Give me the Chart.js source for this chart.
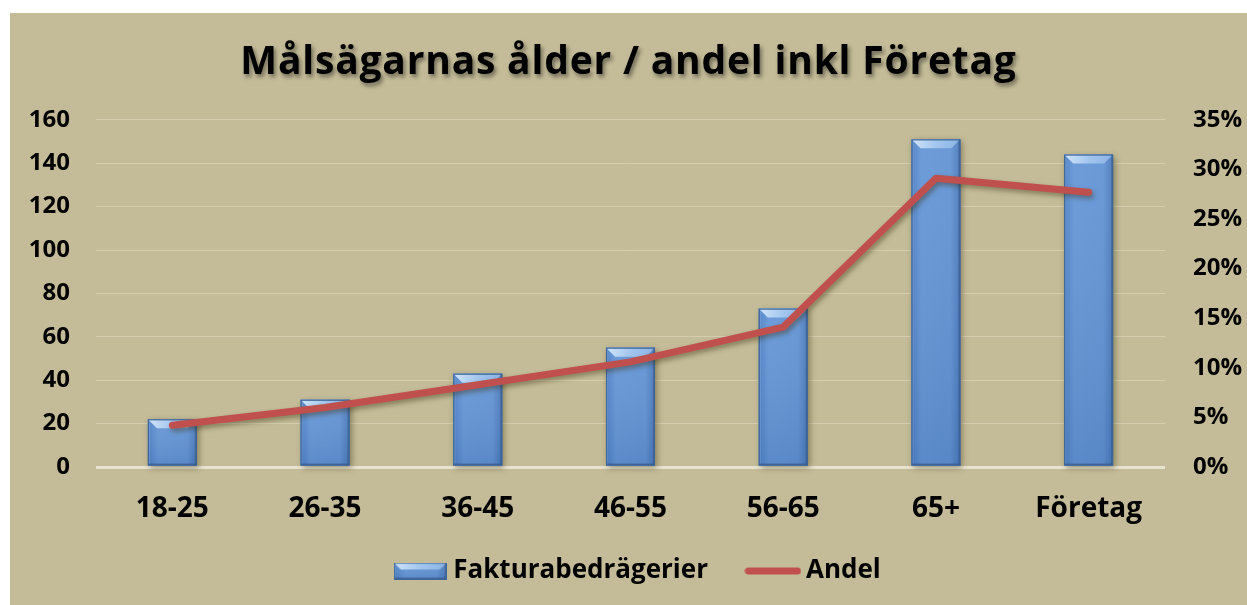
<!DOCTYPE html>
<html>
<head>
<meta charset="utf-8">
<script src="https://cdn.jsdelivr.net/npm/chart.js@4.4.1/dist/chart.umd.min.js"></script>
<style>
  html, body { margin: 0; padding: 0; background: #ffffff; }
  #wrap { position: absolute; left: 10px; top: 13px; width: 1237px; height: 592px; background: #C4BC98; }
  canvas { display: block; }
</style>
</head>
<body>
<div id="wrap"><canvas id="c" width="1237" height="592"></canvas></div>
<script>
const categories = ["18-25", "26-35", "36-45", "46-55", "56-65", "65+", "Företag"];
const fakturaValues = [22, 31, 43, 55, 73, 151, 144];
const andelValues = [4.2, 6.0, 8.3, 10.6, 14.1, 29.1, 27.7];
const leftTicks = [0, 20, 40, 60, 80, 100, 120, 140, 160];
const rightTicks = [0, 5, 10, 15, 20, 25, 30, 35];
const titleText = "Målsägarnas ålder / andel inkl Företag";
const seriesNames = ["Fakturabedrägerier", "Andel"];

const FONT = "'Open Sans', Lato, sans-serif";
const LINE_COLOR = "#C0504D";

function barGradient(ctx, x0, x1) {
  const g = ctx.createLinearGradient(x0, 0, x1, 0);
  g.addColorStop(0, "#4E80C4");
  g.addColorStop(0.2, "#6596D6");
  g.addColorStop(0.8, "#6293D4");
  g.addColorStop(1, "#4A78B8");
  return g;
}

function drawBevelBar(ctx, left, top, right, bottom, bevel) {
  ctx.save();
  ctx.fillStyle = barGradient(ctx, left, right);
  ctx.fillRect(left, top, right - left, bottom - top);
  const vg = ctx.createLinearGradient(0, top, 0, bottom);
  vg.addColorStop(0, "rgba(255,255,255,0.06)");
  vg.addColorStop(1, "rgba(20,50,100,0.12)");
  ctx.fillStyle = vg;
  ctx.fillRect(left, top, right - left, bottom - top);
  const tg = ctx.createLinearGradient(left, top, right, top + bevel);
  tg.addColorStop(0, "#D2E6FA");
  tg.addColorStop(0.5, "#A3C6EE");
  tg.addColorStop(1, "#8AB2E4");
  ctx.fillStyle = tg;
  ctx.beginPath();
  ctx.moveTo(left, top);
  ctx.lineTo(right, top);
  ctx.lineTo(right - bevel, top + bevel);
  ctx.lineTo(left + bevel, top + bevel);
  ctx.closePath();
  ctx.fill();
  ctx.fillStyle = "rgba(150,190,235,0.35)";
  ctx.fillRect(left, top, 2, bottom - top);
  ctx.fillStyle = "rgba(40,70,120,0.35)";
  ctx.fillRect(right - 2, top, 2, bottom - top);
  ctx.fillStyle = "rgba(40,70,120,0.45)";
  ctx.fillRect(left, bottom - 2, right - left, 2);
  ctx.strokeStyle = "#3D6595";
  ctx.lineWidth = 1.2;
  ctx.strokeRect(left + 0.5, top + 0.5, right - left - 1, bottom - top - 1);
  ctx.restore();
}

function makeBarSwatch() {
  const c = document.createElement("canvas");
  c.width = 53; c.height = 17;
  const x = c.getContext("2d");
  drawBevelBar(x, 0, 0, 53, 17, 7);
  return c;
}
function makeLineSwatch() {
  const c = document.createElement("canvas");
  c.width = 57; c.height = 10;
  const x = c.getContext("2d");
  x.strokeStyle = LINE_COLOR;
  x.lineWidth = 7;
  x.lineCap = "round";
  x.beginPath(); x.moveTo(4, 5); x.lineTo(53, 5); x.stroke();
  return c;
}
const barSwatch = makeBarSwatch();
const lineSwatch = makeLineSwatch();

const bevelBarsPlugin = {
  id: "bevelBars",
  afterDatasetDraw(chart, args) {
    if (args.index === 1) { chart.ctx.restore(); return; }
    if (args.index !== 0) return;
    const ctx = chart.ctx;
    const meta = chart.getDatasetMeta(0);
    meta.data.forEach(bar => {
      const p = bar.getProps(["x", "y", "base", "width"], true);
      const left = p.x - p.width / 2, right = p.x + p.width / 2;
      ctx.save();
      ctx.shadowColor = "rgba(60,50,20,0.45)";
      ctx.shadowBlur = 6;
      ctx.shadowOffsetX = 2;
      ctx.shadowOffsetY = 2;
      ctx.fillStyle = "#5A8AC8";
      ctx.fillRect(left, p.y, p.width, p.base - p.y);
      ctx.restore();
      drawBevelBar(ctx, left, p.y, right, p.base, 9);
    });
  },
  beforeDatasetDraw(chart, args) {
    if (args.index === 1) {
      const ctx = chart.ctx;
      ctx.save();
      ctx.shadowColor = "rgba(60,50,20,0.45)";
      ctx.shadowBlur = 5;
      ctx.shadowOffsetX = 2;
      ctx.shadowOffsetY = 3;
    }
  }
};
const titleShadow = {
  id: "titleShadow",
  beforeDraw(chart) {
    const tb = chart.titleBlock;
    if (tb && !tb._wrapped) {
      const orig = tb.draw.bind(tb);
      tb.draw = function() {
        const ctx = chart.ctx;
        ctx.save();
        ctx.shadowColor = "rgba(0,0,0,0.45)";
        ctx.shadowBlur = 4;
        ctx.shadowOffsetX = 2;
        ctx.shadowOffsetY = 3;
        try { ctx.letterSpacing = "0.8px"; } catch (e) {}
        orig();
        ctx.restore();
      };
      tb._wrapped = true;
    }
  }
};
// legend spacing between items is larger than its vertical offset: adjust block
const legendNudge = {
  id: "legendNudge",
  beforeLayout(chart) {
    const lg = chart.legend;
    if (lg && !lg._fitWrapped) {
      const f = lg.fit.bind(lg);
      lg.fit = function() { f(); this.height -= 4; };
      lg._fitWrapped = true;
    }
  },
  afterLayout(chart) {
    const lg = chart.legend;
    if (!lg) return;
    lg.top -= 15; lg.bottom -= 15;
    lg.left += 12; lg.right += 12;
  }
};

new Chart(document.getElementById("c"), {
  data: {
    labels: categories,
    datasets: [
      {
        type: "bar",
        label: seriesNames[0],
        data: fakturaValues,
        yAxisID: "y",
        backgroundColor: "rgba(0,0,0,0)",
        borderWidth: 0,
        barPercentage: 0.64,
        categoryPercentage: 0.5,
        order: 2,
        pointStyle: barSwatch
      },
      {
        type: "line",
        label: seriesNames[1],
        data: andelValues,
        yAxisID: "y1",
        borderColor: LINE_COLOR,
        backgroundColor: LINE_COLOR,
        borderWidth: 7,
        borderCapStyle: "round",
        borderJoinStyle: "round",
        pointRadius: 0,
        pointHoverRadius: 0,
        tension: 0,
        order: 1,
        pointStyle: lineSwatch
      }
    ]
  },
  options: {
    responsive: false,
    animation: false,
    layout: { padding: { left: 0, right: 0, top: 0, bottom: 0 } },
    plugins: {
      title: {
        display: true,
        text: titleText,
        color: "#000000",
        font: { family: FONT, size: 39, weight: "bold" },
        padding: { top: 26, bottom: 34 }
      },
      legend: {
        position: "bottom",
        labels: {
          usePointStyle: true,
          pointStyleWidth: 40,
          color: "#000000",
          font: { family: FONT, size: 26, weight: "bold" },
          padding: 45,
          sort: (a, b) => a.datasetIndex - b.datasetIndex
        }
      },
      tooltip: { enabled: false }
    },
    scales: {
      x: {
        grid: { display: false, drawTicks: false },
        border: { display: false },
        ticks: { color: "#000000", font: { family: FONT, size: 28, weight: "bold" }, padding: 25 },
        afterFit: s => { s.height = 61; }
      },
      y: {
        position: "left",
        min: 0, max: 160,
        afterBuildTicks: s => { s.ticks = leftTicks.map(v => ({ value: v })); },
        grid: {
          drawTicks: false,
          color: ctx => ctx.tick.value === 0 ? "#E8E3CF" : "rgba(225,220,195,0.55)",
          lineWidth: ctx => ctx.tick.value === 0 ? 3 : 1
        },
        border: { display: false },
        ticks: { color: "#000000", font: { family: FONT, size: 24, weight: "bold" }, padding: 26 },
        afterFit: s => { s.width = 86; }
      },
      y1: {
        position: "right",
        min: 0, max: 35,
        afterBuildTicks: s => { s.ticks = rightTicks.map(v => ({ value: v })); },
        grid: { display: false, drawTicks: false },
        border: { display: false },
        ticks: { color: "#000000", font: { family: FONT, size: 24, weight: "bold" }, padding: 28, callback: v => v + "%" },
        afterFit: s => { s.width = 82; }
      }
    }
  },
  plugins: [titleShadow, bevelBarsPlugin, legendNudge]
});
</script>
</body>
</html>
